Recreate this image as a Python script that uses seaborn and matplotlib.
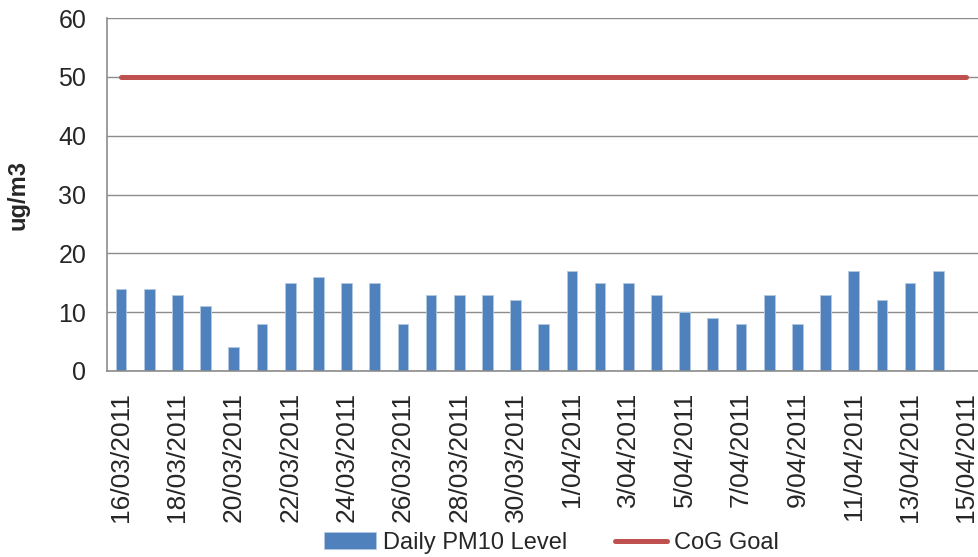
import numpy as np
import pandas as pd
import matplotlib
matplotlib.use("Agg")
import matplotlib.pyplot as plt
import seaborn as sns

# ---- data ----
dates = ["16/03/2011", "17/03/2011", "18/03/2011", "19/03/2011", "20/03/2011",
         "21/03/2011", "22/03/2011", "23/03/2011", "24/03/2011", "25/03/2011",
         "26/03/2011", "27/03/2011", "28/03/2011", "29/03/2011", "30/03/2011",
         "31/03/2011", "1/04/2011", "2/04/2011", "3/04/2011", "4/04/2011",
         "5/04/2011", "6/04/2011", "7/04/2011", "8/04/2011", "9/04/2011",
         "10/04/2011", "11/04/2011", "12/04/2011", "13/04/2011", "14/04/2011",
         "15/04/2011"]
pm10 = [14, 14, 13, 11, 4, 8, 15, 16, 15, 15, 8, 13, 13, 13, 12, 8,
        17, 15, 15, 13, 10, 9, 8, 13, 8, 13, 17, 12, 15, 17, np.nan]
goal = [50] * len(dates)
y_ticks = [0, 10, 20, 30, 40, 50, 60]

df = pd.DataFrame({"date": dates, "pm10": pm10, "goal": goal,
                   "pos": np.arange(len(dates))})

sns.set_style("white")
plt.rcParams["font.family"] = ["Liberation Sans", "DejaVu Sans"]

fig = plt.figure(figsize=(9.79, 5.57), dpi=100)
ax_w = (980.5 - 107) / 979
ax = fig.add_axes([107 / 979, (557 - 371) / 557, ax_w, (371 - 18) / 557])

sns.barplot(data=df, x="date", y="pm10", order=dates, color="#4F81BD",
            width=0.38, saturation=1, edgecolor="#b3c9e3", linewidth=0.6,
            label="Daily PM10 Level", ax=ax)
sns.lineplot(data=df, x="pos", y="goal", color="#C0504D", linewidth=3.6,
             solid_capstyle="round", label="CoG Goal", ax=ax)

ax.set_ylim(0, 60)
ax.set_xlim(-0.5, 30.5)
ax.set_yticks(y_ticks)
ax.set_yticklabels([str(v) for v in y_ticks], fontsize=18)
ax.yaxis.grid(True, color="#8c8c8c", linewidth=1.0)
ax.set_axisbelow(True)

# x labels every 2 days, tick marks at category boundaries
major = list(range(0, len(dates), 2))
ax.set_xticks(major)
ax.set_xticklabels([dates[i] for i in major], rotation=90, fontsize=19)
ax.set_xticks([i - 0.5 for i in range(0, len(dates) + 1, 2)], minor=True)
ax.tick_params(axis="x", which="major", length=0, pad=15)
ax.tick_params(axis="x", which="minor", length=7, width=1.2, color="#8c8c8c", direction="out")
ax.tick_params(axis="y", which="major", length=7, width=1.2, color="#8c8c8c",
               direction="out", pad=8)

for s in ["top", "right"]:
    ax.spines[s].set_visible(False)
for s in ["left", "bottom"]:
    ax.spines[s].set_color("#8c8c8c")
    ax.spines[s].set_linewidth(1.2)

ax.set_xlabel("")
ax.set_ylabel("ug/m3", fontsize=17, fontweight="bold")
ax.yaxis.set_label_coords(-(107 - 30) / (ax_w * 979), 0.5)

handles, labels = ax.get_legend_handles_labels()
if ax.get_legend() is not None:
    ax.get_legend().remove()
order = [labels.index("Daily PM10 Level"), labels.index("CoG Goal")]
fig.legend([handles[i] for i in order], [labels[i] for i in order],
           loc="center", bbox_to_anchor=(551.5 / 979, 1 - 543 / 557),
           ncol=2, frameon=False, fontsize=17, handlelength=2.2,
           handletextpad=0.3, columnspacing=2.0, borderaxespad=0)

fig.savefig("out.png", dpi=100)
